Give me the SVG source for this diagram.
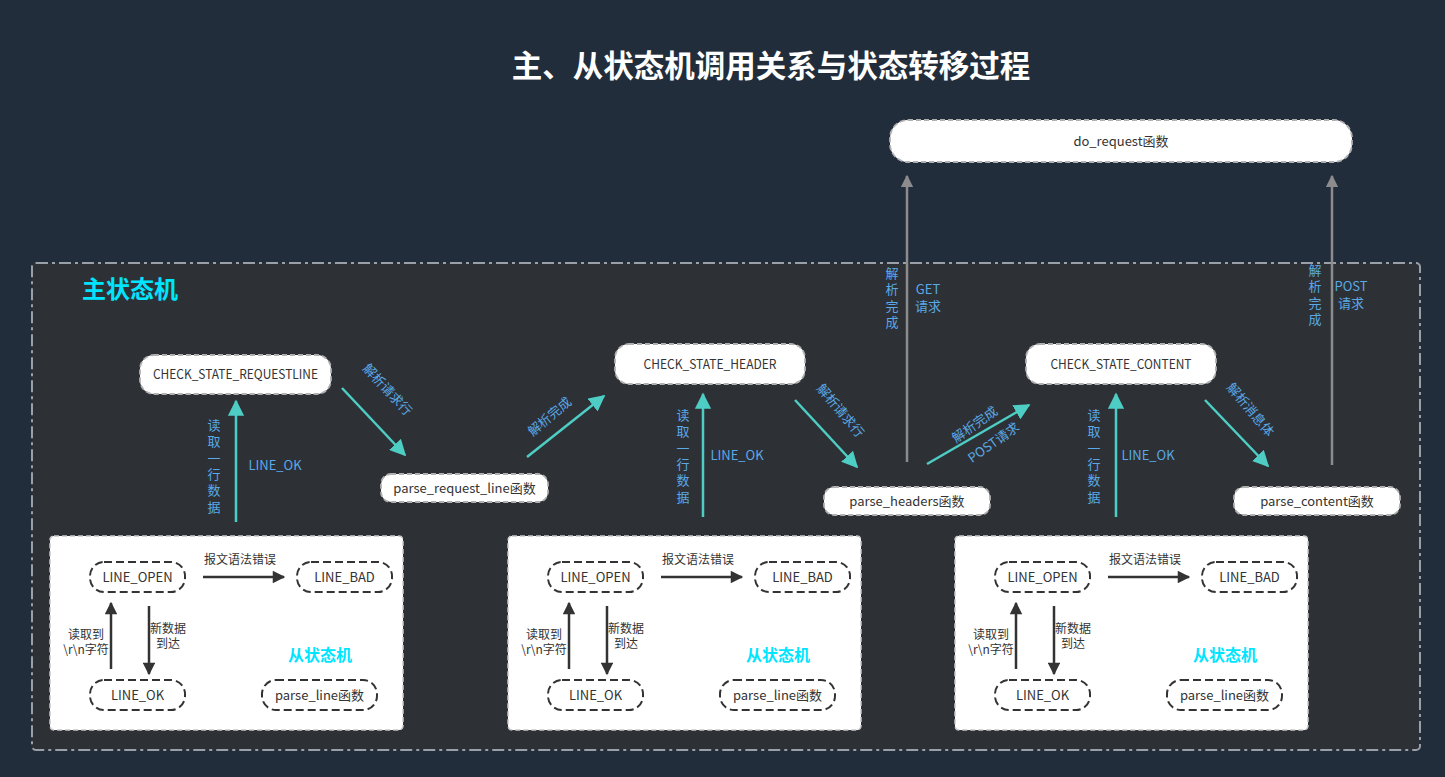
<svg xmlns="http://www.w3.org/2000/svg" width="1445" height="777" viewBox="0 0 1445 777">
<defs>
<style>
.t{font-family:"Noto Sans CJK SC","Noto Sans",sans-serif;font-size:13px;fill:#333;text-anchor:middle}
.lb{font-family:"Noto Sans CJK SC","Noto Sans",sans-serif;font-size:13px;fill:#5aa9e6;text-anchor:middle}
.sl{font-family:"Noto Sans CJK SC","Noto Sans",sans-serif;font-size:12px;fill:#333;text-anchor:middle}
.pl{font-family:"Noto Sans CJK SC","Noto Sans",sans-serif;font-size:13px;fill:#333;text-anchor:middle}
.node{fill:#fff;stroke:#b0b0b0;stroke-width:1.8;stroke-dasharray:5 3}
.pill{fill:#fff;stroke:#333;stroke-width:2;stroke-dasharray:8 4}
.sub{fill:#fff;stroke:#c8c8c8;stroke-width:1.5;stroke-dasharray:5 3}
.teal{stroke:#4ecdc4;stroke-width:2.5;fill:none;marker-end:url(#ah)}
.gray{stroke:#8c8c8c;stroke-width:2.5;fill:none;marker-end:url(#ag)}
.dark{stroke:#333;stroke-width:2.5;fill:none;marker-end:url(#ad)}
</style>
<marker id="ah" viewBox="0 0 10 10" refX="9" refY="5" markerWidth="6.5" markerHeight="6.5" markerUnits="strokeWidth" orient="auto"><path d="M0,0 L10,5 L0,10 z" fill="#4ecdc4"/></marker>
<marker id="ag" viewBox="0 0 10 10" refX="9" refY="5" markerWidth="5" markerHeight="5" markerUnits="strokeWidth" orient="auto"><path d="M0,0 L10,5 L0,10 z" fill="#8c8c8c"/></marker>
<marker id="ad" viewBox="0 0 10 10" refX="9" refY="5" markerWidth="6" markerHeight="5" markerUnits="strokeWidth" orient="auto"><path d="M0,0 L10,5 L0,10 z" fill="#333"/></marker>
<g id="subfsm">
<rect class="sub" x="50" y="536" width="353" height="194" rx="4"/>
<rect class="pill" x="90" y="562" width="95" height="30" rx="14"/>
<text class="pl" x="137.5" y="582">LINE_OPEN</text>
<rect class="pill" x="297" y="562" width="95" height="30" rx="14"/>
<text class="pl" x="344.5" y="582">LINE_BAD</text>
<rect class="pill" x="90" y="680" width="95" height="30" rx="14"/>
<text class="pl" x="137.5" y="700">LINE_OK</text>
<rect class="pill" x="262" y="680" width="115" height="30" rx="14"/>
<text class="pl" x="319.5" y="700">parse_line函数</text>
<line class="dark" x1="203" y1="577" x2="284" y2="577"/>
<text class="sl" x="240" y="564">报文语法错误</text>
<line class="dark" x1="111" y1="669" x2="111" y2="603"/>
<line class="dark" x1="149" y1="606" x2="149" y2="674"/>
<text class="sl" x="86" y="639">读取到</text>
<text class="sl" x="86" y="654">\r\n字符</text>
<text class="sl" x="168" y="633">新数据</text>
<text class="sl" x="168" y="648">到达</text>
<text x="320" y="661" style="font-family:'Noto Sans CJK SC',sans-serif;font-size:16px;font-weight:bold;fill:#00e5ff;text-anchor:middle">从状态机</text>
</g>
</defs>
<rect x="0" y="0" width="1445" height="777" fill="#222d3b"/>
<text x="771" y="77" style="font-family:'Noto Sans CJK SC',sans-serif;font-size:30.5px;font-weight:bold;fill:#fff;text-anchor:middle">主、从状态机调用关系与状态转移过程</text>
<g id="main-frame">
<rect x="32" y="263" width="1388" height="487" rx="4" fill="#2d3136" stroke="#9aa0a8" stroke-width="2" stroke-dasharray="12 4 3 4"/>
<text x="82" y="298" style="font-family:'Noto Sans CJK SC',sans-serif;font-size:24px;font-weight:bold;fill:#00e5ff">主状态机</text>
</g>
<g id="connectors">
<line class="gray" x1="907" y1="462" x2="907" y2="176"/>
<line class="gray" x1="1332" y1="465" x2="1332" y2="176"/>
<line class="teal" x1="236" y1="522" x2="236" y2="401"/>
<line class="teal" x1="703" y1="517" x2="703" y2="394"/>
<line class="teal" x1="1116" y1="517" x2="1116" y2="394"/>
<line class="teal" x1="342" y1="388" x2="405" y2="455"/>
<line class="teal" x1="527" y1="457" x2="604" y2="396"/>
<line class="teal" x1="795" y1="400" x2="857" y2="467"/>
<line class="teal" x1="927" y1="464" x2="1029" y2="405"/>
<line class="teal" x1="1205" y1="400" x2="1268" y2="466"/>
<text class="lb"><tspan x="214" y="430">读</tspan><tspan x="214" dy="16.3">取</tspan><tspan x="214" dy="16.3">一</tspan><tspan x="214" dy="16.3">行</tspan><tspan x="214" dy="16.3">数</tspan><tspan x="214" dy="16.3">据</tspan></text>
<text class="lb" x="275" y="470">LINE_OK</text>
<text class="lb"><tspan x="683" y="420">读</tspan><tspan x="683" dy="16.3">取</tspan><tspan x="683" dy="16.3">一</tspan><tspan x="683" dy="16.3">行</tspan><tspan x="683" dy="16.3">数</tspan><tspan x="683" dy="16.3">据</tspan></text>
<text class="lb" x="737" y="460">LINE_OK</text>
<text class="lb"><tspan x="1094" y="420">读</tspan><tspan x="1094" dy="16.3">取</tspan><tspan x="1094" dy="16.3">一</tspan><tspan x="1094" dy="16.3">行</tspan><tspan x="1094" dy="16.3">数</tspan><tspan x="1094" dy="16.3">据</tspan></text>
<text class="lb" x="1148" y="460">LINE_OK</text>
<text class="lb"><tspan x="892" y="278">解</tspan><tspan x="892" dy="16.3">析</tspan><tspan x="892" dy="16.3">完</tspan><tspan x="892" dy="16.3">成</tspan></text>
<text class="lb" x="928" y="294">GET</text>
<text class="lb" x="928" y="311">请求</text>
<text class="lb"><tspan x="1315" y="275">解</tspan><tspan x="1315" dy="16.3">析</tspan><tspan x="1315" dy="16.3">完</tspan><tspan x="1315" dy="16.3">成</tspan></text>
<text class="lb" x="1351" y="291">POST</text>
<text class="lb" x="1351" y="308">请求</text>
<text class="lb" transform="translate(387,390) rotate(47)" y="4">解析请求行</text>
<text class="lb" transform="translate(550,417) rotate(-40)" y="4">解析完成</text>
<text class="lb" transform="translate(840,411) rotate(50)" y="4">解析请求行</text>
<text class="lb" transform="translate(975,425) rotate(-35)" y="4">解析完成</text>
<text class="lb" transform="translate(994,443) rotate(-35)" y="4">POST请求</text>
<text class="lb" transform="translate(1250,410) rotate(50)" y="4">解析消息体</text>
</g>
<g id="do_request"><rect class="node" x="890" y="120" width="462" height="42" rx="18"/><text class="t" x="1121" y="146">do_request函数</text></g>
<g id="check_state_requestline"><rect class="node" x="140" y="355" width="191" height="39" rx="14"/><text class="t" x="235.5" y="379" textLength="165" lengthAdjust="spacingAndGlyphs">CHECK_STATE_REQUESTLINE</text></g>
<g id="parse_request_line"><rect class="node" x="381" y="474" width="167" height="28" rx="10"/><text class="t" x="464.5" y="493">parse_request_line函数</text></g>
<g id="check_state_header"><rect class="node" x="615" y="344" width="190" height="40" rx="14"/><text class="t" x="710" y="369" textLength="133" lengthAdjust="spacingAndGlyphs">CHECK_STATE_HEADER</text></g>
<g id="parse_headers"><rect class="node" x="824" y="487" width="166" height="28" rx="10"/><text class="t" x="907" y="506">parse_headers函数</text></g>
<g id="check_state_content"><rect class="node" x="1026" y="344" width="190" height="40" rx="14"/><text class="t" x="1121" y="369" textLength="141" lengthAdjust="spacingAndGlyphs">CHECK_STATE_CONTENT</text></g>
<g id="parse_content"><rect class="node" x="1234" y="487" width="166" height="28" rx="10"/><text class="t" x="1317" y="506">parse_content函数</text></g>
<g id="sub-fsm-1"><use href="#subfsm"/></g>
<g id="sub-fsm-2"><use href="#subfsm" transform="translate(458,0)"/></g>
<g id="sub-fsm-3"><use href="#subfsm" transform="translate(905,0)"/></g>
</svg>
